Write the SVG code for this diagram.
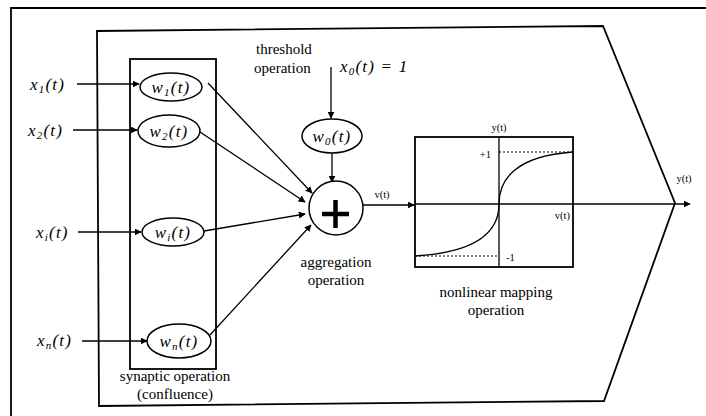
<svg xmlns="http://www.w3.org/2000/svg" width="706" height="416" viewBox="0 0 706 416">
<defs>
<marker id="ah" viewBox="0 0 10 10" refX="9" refY="5" markerWidth="7" markerHeight="7" markerUnits="userSpaceOnUse" orient="auto">
<path d="M0,0 L10,5 L0,10 z" fill="#000"/>
</marker>
</defs>
<style>
.ln{fill:none;stroke:#000;stroke-width:1.3}
.bx{fill:none;stroke:#000;stroke-width:1.8}
.el{fill:#fff;stroke:#000;stroke-width:1.5}
.t{font-size:15px}
.m{font-style:italic;font-size:17px;letter-spacing:1.2px}
.s{font-size:10.5px}
.dot{fill:none;stroke:#000;stroke-width:1;stroke-dasharray:2 2}
</style>
<rect x="0" y="0" width="706" height="416" fill="#fff"/>
<g id="frame">
<polyline class="bx" points="11,420 11,8 710,8"/>
</g>
<g id="neuron-body">
<polygon class="bx" points="97,31 603,26 675,203 604,401 99,406"/>
</g>
<g font-family="Liberation Serif, DejaVu Serif, serif" fill="#000">
<g id="synaptic">
<rect class="bx" x="130" y="59" width="86" height="310"/>
<text class="t" x="175" y="381" text-anchor="middle">synaptic operation</text>
<text class="t" x="175" y="399" text-anchor="middle">(confluence)</text>
</g>
<g id="connectors">
<line class="ln" x1="77" y1="84" x2="139" y2="84" marker-end="url(#ah)"/>
<line class="ln" x1="73" y1="130" x2="137" y2="130" marker-end="url(#ah)"/>
<line class="ln" x1="78" y1="232" x2="141" y2="232" marker-end="url(#ah)"/>
<line class="ln" x1="82" y1="341" x2="147" y2="341" marker-end="url(#ah)"/>
<line class="ln" x1="208" y1="83" x2="312" y2="193" marker-end="url(#ah)"/>
<line class="ln" x1="200" y1="132" x2="305" y2="202" marker-end="url(#ah)"/>
<line class="ln" x1="204" y1="231" x2="305" y2="214" marker-end="url(#ah)"/>
<line class="ln" x1="210" y1="335" x2="311" y2="225" marker-end="url(#ah)"/>
<line class="ln" x1="331" y1="67" x2="331" y2="118" marker-end="url(#ah)"/>
<line class="ln" x1="332" y1="153" x2="332" y2="182" marker-end="url(#ah)"/>
<line class="ln" x1="363" y1="205" x2="414" y2="205" marker-end="url(#ah)"/>
<line class="ln" x1="415" y1="204" x2="690" y2="204" marker-end="url(#ah)"/>
</g>
<g id="x1">
<text class="m" x="30" y="90">x<tspan font-size="11" dy="3">1</tspan><tspan dy="-3">(t)</tspan></text>
</g>
<g id="x2">
<text class="m" x="28" y="136">x<tspan font-size="11" dy="3">2</tspan><tspan dy="-3">(t)</tspan></text>
</g>
<g id="xi">
<text class="m" x="36" y="238">x<tspan font-size="11" dy="3">i</tspan><tspan dy="-3">(t)</tspan></text>
</g>
<g id="xn">
<text class="m" x="37" y="346">x<tspan font-size="11" dy="3">n</tspan><tspan dy="-3">(t)</tspan></text>
</g>
<g id="w1">
<ellipse class="el" cx="171" cy="87" rx="31" ry="14"/>
<text class="m" x="171" y="93" text-anchor="middle">w<tspan font-size="11" dy="3">1</tspan><tspan dy="-3">(t)</tspan></text>
</g>
<g id="w2">
<ellipse class="el" cx="169" cy="131" rx="31" ry="16"/>
<text class="m" x="169" y="137" text-anchor="middle">w<tspan font-size="11" dy="3">2</tspan><tspan dy="-3">(t)</tspan></text>
</g>
<g id="wi">
<ellipse class="el" cx="173" cy="232" rx="31" ry="14"/>
<text class="m" x="173" y="238" text-anchor="middle">w<tspan font-size="11" dy="3">i</tspan><tspan dy="-3">(t)</tspan></text>
</g>
<g id="wn">
<ellipse class="el" cx="179" cy="341" rx="32" ry="17"/>
<text class="m" x="179" y="347" text-anchor="middle">w<tspan font-size="11" dy="3">n</tspan><tspan dy="-3">(t)</tspan></text>
</g>
<g id="threshold">
<text class="t" x="256" y="54">threshold</text>
<text class="t" x="254" y="73">operation</text>
<text class="m" x="340" y="72">x<tspan font-size="11" dy="3">0</tspan><tspan dy="-3">(t) = 1</tspan></text>
</g>
<g id="w0">
<ellipse class="el" cx="332" cy="136" rx="30" ry="17"/>
<text class="m" x="332" y="142" text-anchor="middle">w<tspan font-size="11" dy="3">0</tspan><tspan dy="-3">(t)</tspan></text>
</g>
<g id="sum">
<circle class="el" cx="336" cy="208" r="27"/>
<path d="M322,214 H349 M335.5,200 V228" stroke="#000" stroke-width="4.5" fill="none"/>
<text class="t" x="336" y="267" text-anchor="middle">aggregation</text>
<text class="t" x="336" y="285" text-anchor="middle">operation</text>
<text class="s" x="382" y="198" text-anchor="middle">v(t)</text>
</g>
<g id="activation">
<rect class="bx" x="415" y="137" width="158" height="130"/>
<line class="ln" x1="499" y1="137" x2="499" y2="267"/>
<line class="dot" x1="499" y1="152" x2="573" y2="152"/>
<line class="dot" x1="415" y1="256" x2="499" y2="256"/>
<path class="ln" d="M499,204 C499,180 515,156 573,152"/>
<path class="ln" d="M499,204 C499,228 483,252 415,256"/>
<text class="s" x="499" y="131" text-anchor="middle">y(t)</text>
<text class="s" x="491" y="158" text-anchor="end">+1</text>
<text class="s" x="506" y="261">-1</text>
<text class="s" x="570" y="219" text-anchor="end">v(t)</text>
<text class="t" x="496" y="297" text-anchor="middle">nonlinear mapping</text>
<text class="t" x="496" y="315" text-anchor="middle">operation</text>
</g>
<g id="output">
<text class="s" x="684" y="182" text-anchor="middle">y(t)</text>
</g>
</g>
</svg>
